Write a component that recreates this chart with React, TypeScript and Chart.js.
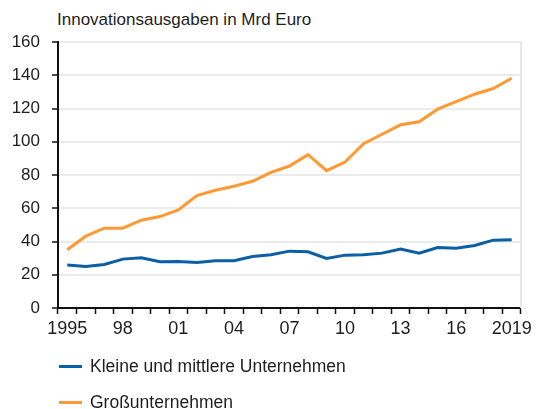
import React, { useEffect, useRef } from "react";
import { Chart, registerables } from "chart.js";

Chart.register(...registerables);

const years: string[] = [
  "1995", "1996", "1997", "1998", "1999", "2000", "2001", "2002", "2003", "2004",
  "2005", "2006", "2007", "2008", "2009", "2010", "2011", "2012", "2013", "2014",
  "2015", "2016", "2017", "2018", "2019",
];
const tickLabels: string[] = [
  "1995", "", "", "98", "", "", "01", "", "", "04", "", "", "07", "", "", "10",
  "", "", "13", "", "", "16", "", "", "2019",
];
const kmu: number[] = [
  25.8, 25.0, 26.2, 29.4, 30.2, 27.8, 28.0, 27.4, 28.4, 28.4, 31.0, 32.0, 34.2,
  33.8, 29.8, 31.8, 32.0, 33.0, 35.4, 33.0, 36.4, 36.0, 37.6, 40.8, 41.0,
];
const gross: number[] = [
  35.0, 43.2, 48.0, 48.0, 52.8, 55.0, 59.0, 67.6, 70.8, 73.2, 76.2, 81.6, 85.4,
  92.2, 82.6, 87.8, 98.8, 104.5, 110.2, 112.0, 119.6, 124.2, 128.6, 132.0, 138.2,
];
const seriesNames: string[] = ["Kleine und mittlere Unternehmen", "Großunternehmen"];
const title = "Innovationsausgaben in Mrd Euro";

const BLUE = "#0b5fa5";
const ORANGE = "#ff9933";
const FONT = "'Liberation Sans', Arial, sans-serif";
const TEXT = "#1e1e1e";

const rightBorder = {
  id: "rightBorder",
  beforeDatasetsDraw(chart: any) {
    const { ctx, chartArea } = chart;
    ctx.save();
    ctx.strokeStyle = "#e8e8e8";
    ctx.lineWidth = 2;
    ctx.beginPath();
    ctx.moveTo(chartArea.right, chartArea.top - 1);
    ctx.lineTo(chartArea.right, chartArea.bottom);
    ctx.stroke();
    ctx.restore();
  },
};

export default function App() {
  const ref = useRef<HTMLCanvasElement | null>(null);
  useEffect(() => {
    if (!ref.current) return;
    const chart = new Chart(ref.current, {
      type: "line",
      data: {
        labels: years,
        datasets: [
          {
            label: seriesNames[0],
            data: kmu,
            borderColor: BLUE,
            backgroundColor: BLUE,
            borderWidth: 3,
            pointRadius: 0,
            tension: 0,
          },
          {
            label: seriesNames[1],
            data: gross,
            borderColor: ORANGE,
            backgroundColor: ORANGE,
            borderWidth: 3,
            pointRadius: 0,
            tension: 0,
          },
        ],
      },
      options: {
        responsive: false,
        animation: false,
        devicePixelRatio: 1,
        layout: { padding: { top: 42, right: 13, left: 0, bottom: 0 } },
        plugins: {
          legend: { display: false },
          tooltip: { enabled: false },
          title: { display: false },
        },
        scales: {
          x: {
            offset: true,
            grid: {
              offset: true,
              drawOnChartArea: false,
              drawTicks: true,
              tickLength: 6,
              tickColor: "#111",
              tickWidth: 1.5,
            },
            border: { color: "#111", width: 2 },
            ticks: {
              autoSkip: false,
              maxRotation: 0,
              minRotation: 0,
              padding: 4,
              color: TEXT,
              font: { family: FONT, size: 18 },
              callback: (_v: any, i: number) => tickLabels[i],
            },
            afterFit: (s: any) => {
              s.height = 101;
            },
          },
          y: {
            min: 0,
            max: 160,
            ticks: {
              stepSize: 20,
              padding: 12,
              color: TEXT,
              font: { family: FONT, size: 17 },
            },
            grid: {
              color: "#ebebeb",
              lineWidth: 2,
              tickColor: "#111",
              tickLength: 6,
              tickWidth: 1.5,
            },
            border: { color: "#111", width: 2 },
            afterFit: (s: any) => {
              s.width = 58;
            },
          },
        },
      },
      plugins: [rightBorder],
    });
    return () => chart.destroy();
  }, []);

  const legendItem = (name: string, color: string, top: number) => (
    <div key={name} style={{ position: "absolute", left: 59, top, height: 20, display: "flex", alignItems: "center" }}>
      <div style={{ width: 23, height: 3, background: color }} />
      <span style={{ marginLeft: 8, fontFamily: FONT, fontSize: 17.5, color: TEXT, lineHeight: "20px", whiteSpace: "nowrap" }}>{name}</span>
    </div>
  );

  return (
    <div style={{ position: "absolute", left: 0, top: 0, width: 536, height: 409, background: "#fff", overflow: "hidden" }}>
      <div style={{ position: "absolute", left: 57, top: 10, fontFamily: FONT, fontSize: 17, color: TEXT, lineHeight: "20px", whiteSpace: "nowrap" }}>
        {title}
      </div>
      <canvas ref={ref} width={536} height={409} style={{ position: "absolute", left: 0, top: 0, width: 536, height: 409 }} />
      {legendItem(seriesNames[0], BLUE, 356)}
      {legendItem(seriesNames[1], ORANGE, 392)}
    </div>
  );
}
